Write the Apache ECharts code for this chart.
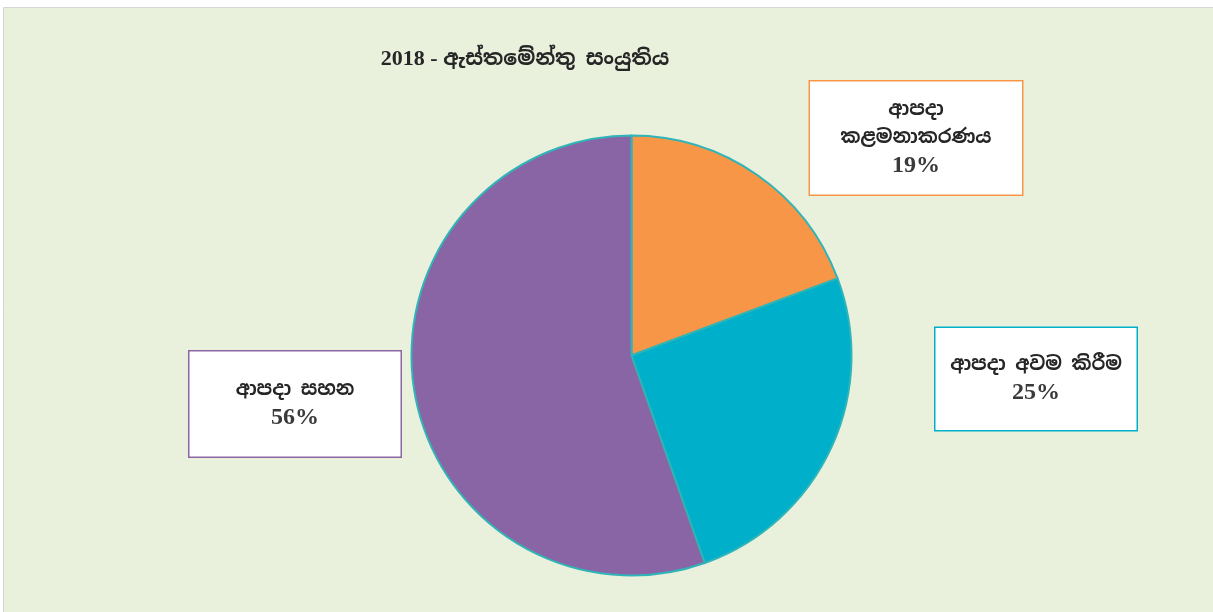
<!DOCTYPE html>
<html>
<head>
<meta charset="utf-8">
<script src="https://cdn.jsdelivr.net/npm/echarts@6/dist/echarts.min.js"></script>
<style>
html,body{margin:0;padding:0;background:#fff;}
#c{width:1213px;height:612px;}
</style>
</head>
<body>
<div id="c"></div>
<script>
const titleYear = '2018 - ';
const titleText = 'ඇස්තමේන්තු සංයුතිය';
const categories = ['ආපදා\nකළමනාකරණය', 'ආපදා අවම කිරීම', 'ආපදා සහන'];
const values = [19.3, 25.3, 55.4];
const colors = ['#F79646', '#00AFCA', '#8A65A6'];
const labelCenters = [[916, 138], [1036, 379], [295, 404]];
const boxSizes = [[212, 113], [201, 102], [211, 105]];

const sinhala = '"Noto Sans Sinhala","Noto Serif Sinhala","Iskoola Pota","Noto Sans",sans-serif';
const serif = '"Liberation Serif","DejaVu Serif",serif';

const chart = echarts.init(document.getElementById('c'));
const data = categories.map((n, i) => {
  const lines = n.split('\n').length;
  const contentH = (lines + 1) * 28;
  const padV = Math.max(0, (boxSizes[i][1] - contentH) / 2);
  return {
    name: n,
    value: values[i],
    itemStyle: { color: colors[i] },
    label: {
      borderColor: colors[i],
      padding: [padV, 0, padV, 0],
      width: boxSizes[i][0]
    }
  };
});

chart.setOption({
  backgroundColor: '#ffffff',
  animation: false,
  graphic: [{
    type: 'rect',
    shape: { x: 3.5, y: 7.5, width: 1212, height: 606 },
    style: { fill: '#E9F0DC', stroke: '#D6D6D6', lineWidth: 1 },
    z: -10
  }],
  title: {
    text: '{y|' + titleYear + '}{s|' + titleText + '}',
    left: 520, top: 43,
    textAlign: 'center',
    textStyle: {
      rich: {
        y: { fontFamily: serif, fontSize: 22, fontWeight: 'bold', color: '#262626' },
        s: { fontFamily: sinhala, fontSize: 20.5, fontWeight: 'bold', color: '#262626' }
      }
    }
  },
  series: [{
    type: 'pie',
    center: [631.5, 355.5],
    radius: 220,
    startAngle: 90,
    clockwise: true,
    percentPrecision: 0,
    avoidLabelOverlap: false,
    data: data,
    itemStyle: { borderColor: '#2FB4B8', borderWidth: 2 },
    emphasis: { disabled: true },
    labelLine: { show: false },
    label: {
      show: true,
      position: 'outside',
      backgroundColor: '#ffffff',
      borderWidth: 1.5,
      align: 'center',
      formatter: p => '{n|' + p.name.split('\n').join('}\n{n|') + '}\n{p|' + p.percent + '%}',
      rich: {
        n: { fontFamily: sinhala, fontSize: 19, fontWeight: 'bold', color: '#262626', lineHeight: 28, align: 'center' },
        p: { fontFamily: serif, fontSize: 24, fontWeight: 'bold', color: '#3a3a3a', lineHeight: 28, align: 'center' }
      }
    },
    labelLayout: function (params) {
      const c = labelCenters[params.dataIndex];
      return { x: c[0], y: c[1], align: 'center', verticalAlign: 'middle', moveOverlap: false };
    }
  }]
});
</script>
</body>
</html>
